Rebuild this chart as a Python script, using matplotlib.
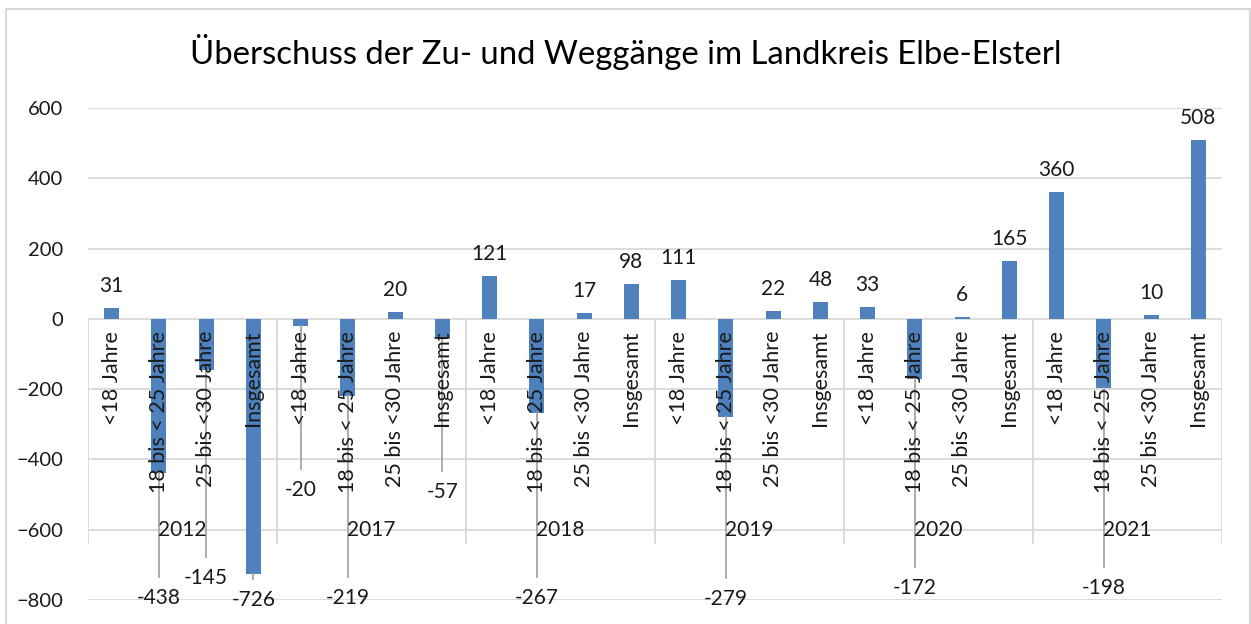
import matplotlib
matplotlib.use('Agg')
import matplotlib.pyplot as plt
from matplotlib.patches import Rectangle

years = ['2012', '2017', '2018', '2019', '2020', '2021']
groups = ['<18 Jahre', '18 bis < 25 Jahre', '25 bis <30 Jahre', 'Insgesamt']
values = [31, -438, -145, -726,
          -20, -219, 20, -57,
          121, -267, 17, 98,
          111, -279, 22, 48,
          33, -172, 6, 165,
          360, -198, 10, 508]
# where Excel moved the negative labels to (data units), None = default
label_pos = [None, -794, -738, -800,
             -488, -794, None, -494,
             None, -794, None, None,
             None, -796, None, None,
             None, -766, None, None,
             None, -766, None, None]

plt.rcParams['font.family'] = ['Lato', 'DejaVu Sans']
blue = '#4F81BD'
grid_c = '#D9D9D9'
txt = '#1a1a1a'

fig = plt.figure(figsize=(12.51, 6.24), dpi=100)
fig.patches.append(Rectangle((6/1251, -0.1), 1244/1251, 1.1 - 9/624, transform=fig.transFigure,
                             fill=False, edgecolor=grid_c, linewidth=1.5))
ax = fig.add_axes([88/1251, 24/624, 1134/1251, 492/624])

n = len(values)
x = list(range(n))
ax.set_xlim(-0.5, n - 0.5)
ax.set_ylim(-800, 600)
for v in range(-800, 601, 200):
    ax.axhline(v, color=grid_c, linewidth=1.3, zorder=0)
ax.bar(x, values, width=0.32, color=blue, zorder=2)

for s in ax.spines.values():
    s.set_visible(False)
ax.set_xticks([])
ax.set_yticks(range(-800, 601, 200))
ax.tick_params(axis='y', length=0, pad=18, labelsize=14.5, labelcolor=txt)

# group separators
for k in range(len(years) + 1):
    ax.plot([4 * k - 0.5, 4 * k - 0.5], [0, -638], color=grid_c, linewidth=1.3, zorder=1)

# category labels and year labels
for i in x:
    ax.annotate(groups[i % 4], xy=(i, 0), xytext=(0, -12), textcoords='offset pixels',
                rotation=90, ha='center', va='top', fontsize=15.5, color=txt, zorder=4)
for k, yr in enumerate(years):
    ax.text(4 * k + 1.5, -601, yr, ha='center', va='center', fontsize=15, color=txt, zorder=4)

# data labels
for i, v in enumerate(values):
    if v >= 0:
        ax.annotate(str(v), xy=(i, v), xytext=(0, 12), textcoords='offset pixels',
                    ha='center', va='bottom', fontsize=15, color=txt, zorder=5)
    else:
        ly = label_pos[i]
        top = ly + 60
        if top < v:
            ax.plot([i, i], [v, top], color='#A6A6A6', linewidth=1.3, zorder=3)
        ax.text(i, ly, str(v), ha='center', va='center', fontsize=15, color=txt, zorder=5)

fig.text(0.5, 572/624, 'Überschuss der Zu- und Weggänge im Landkreis Elbe-Elsterl',
         ha='center', va='center', fontsize=23.7, color='#000000')

fig.savefig('out.png', dpi=100)
